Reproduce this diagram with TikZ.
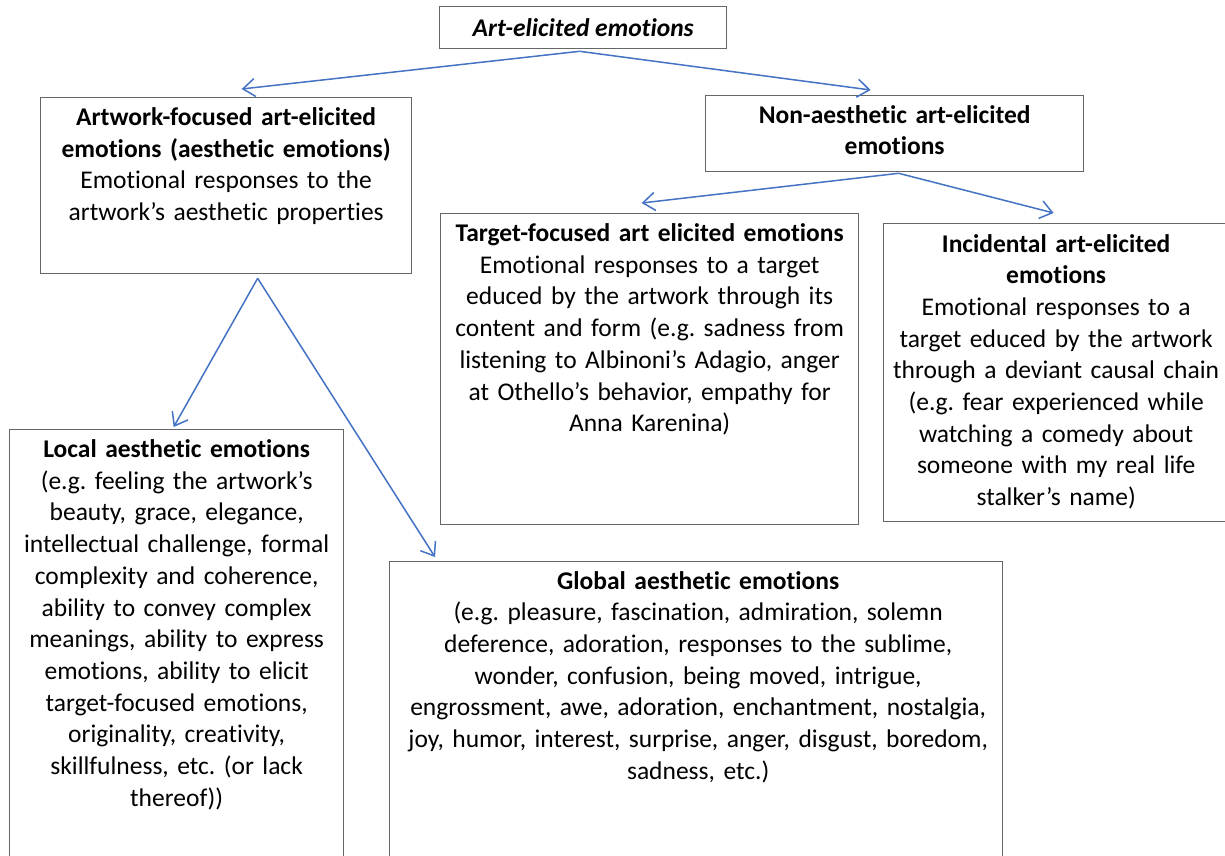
\documentclass[tikz,border=0pt]{standalone}
\usepackage{fontspec}
\setmainfont{Carlito}[RawFeature={-liga;-clig;-dlig;-calt;-rlig}]
\usetikzlibrary{arrows.meta,calc}
\definecolor{arrowblue}{HTML}{4472C4}
\definecolor{boxgray}{HTML}{666666}
\frenchspacing
\begin{document}
\begin{tikzpicture}[x=1pt,y=-1pt,
  box/.style={draw=boxgray,line width=1.3pt,anchor=north west,inner sep=0pt},
  txt/.style={anchor=base,inner sep=0pt,text width=640pt,align=center,font=\fontsize{25.5}{31.7}\selectfont},
  arr/.style={draw=arrowblue,line width=1.5pt,-{Straight Barb[length=12pt,width=18pt]}}]
\useasboundingbox (0,0) rectangle (1225,855);
\fill[white] (0,0) rectangle (1225,855);
\clip (0,0) rectangle (1225,855);

% boxes
\node[box,minimum width=287pt,minimum height=42pt,font=\fontsize{25.5}{31.7}\selectfont] (top) at (439,6) {\bfseries\itshape Art-elicited emotions};
\node[box,minimum width=371pt,minimum height=176pt] (artwork) at (40,97) {};
\node[box,minimum width=378pt,minimum height=76pt] (nonaes) at (705,95) {};
\node[box,minimum width=418pt,minimum height=311pt] (target) at (440,213) {};
\node[box,minimum width=345pt,minimum height=298pt] (incid) at (883,223) {};
\node[box,minimum width=334pt,minimum height=441pt] (local) at (9,429) {};
\node[box,minimum width=613pt,minimum height=309pt] (global) at (389,561) {};

% texts
\node[txt] (artworkT) at ($(artwork.north)+(0,28.5)$) {\textbf{Artwork-focused art-elicited}\\
\textbf{emotions (aesthetic emotions)}\\
Emotional responses to the\\
artwork’s aesthetic properties};

\node[txt] (nonaesT) at ($(nonaes.north)+(0,28)$) {\textbf{Non-aesthetic art-elicited}\\
\textbf{emotions}};

\node[txt] (targetT) at ($(target.north)+(0,28.5)$) {\textbf{Target-focused art elicited emotions}\\
Emotional responses to a target\\
educed by the artwork through its\\
content and form (e.g. sadness from\\
listening to Albinoni’s Adagio, anger\\
at Othello’s behavior, empathy for\\
Anna Karenina)};

\node[txt] (incidT) at ($(incid.north)+(0,29)$) {\textbf{Incidental art-elicited}\\
\textbf{emotions}\\
Emotional responses to a\\
target educed by the artwork\\
through a deviant causal chain\\
(e.g. fear experienced while\\
watching a comedy about\\
someone with my real life\\
stalker’s name)};

\node[txt] (localT) at ($(local.north)+(0,28.5)$) {\textbf{Local aesthetic emotions}\\
(e.g. feeling the artwork’s\\
beauty, grace, elegance,\\
intellectual challenge, formal\\
complexity and coherence,\\
ability to convey complex\\
meanings, ability to express\\
emotions, ability to elicit\\
target-focused emotions,\\
originality, creativity,\\
skillfulness, etc. (or lack\\
thereof))};

\node[txt] (globalT) at ($(global.north)+(2,28)$) {\textbf{Global aesthetic emotions}\\
(e.g. pleasure, fascination, admiration, solemn\\
deference, adoration, responses to the sublime,\\
wonder, confusion, being moved, intrigue,\\
engrossment, awe, adoration, enchantment, nostalgia,\\
joy, humor, interest, surprise, anger, disgust, boredom,\\
sadness, etc.)};

% connectors
\draw[arr] ([xshift=-3.5pt,yshift=-2pt]top.south) -- ([xshift=15.5pt,yshift=8pt]artwork.north);
\draw[arr] ([xshift=-3.5pt,yshift=-2pt]top.south) -- ([xshift=-24pt,yshift=5pt]nonaes.north);
\draw[arr] ([xshift=4pt,yshift=-1pt]nonaes.south) -- ([xshift=-8pt,yshift=10pt]target.north);
\draw[arr] ([xshift=4pt,yshift=-1pt]nonaes.south) -- ([xshift=-2.5pt,yshift=10pt]incid.north);
\draw[arr] ([xshift=31.5pt,yshift=-4pt]artwork.south) -- ([xshift=-3pt,yshift=2pt]local.north);
\draw[arr] ([xshift=31.5pt,yshift=-4pt]artwork.south) -- ([xshift=46pt,yshift=4pt]global.north west);
\end{tikzpicture}
\end{document}
